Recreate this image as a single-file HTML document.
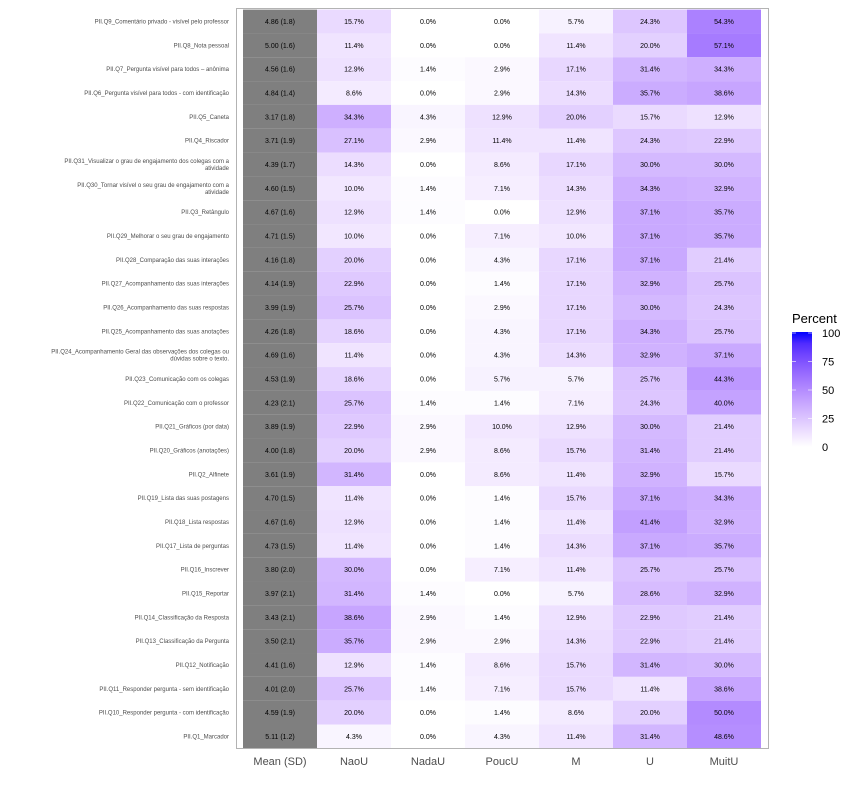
<!DOCTYPE html>
<html><head><meta charset="utf-8"><style>
body{margin:0;background:#fff;font-family:"Liberation Sans",sans-serif}
svg{display:block}
</style></head><body>
<svg id="c" width="858" height="794"></svg>
<script>
const rowLabels=["PII.Q9_Comentário privado - visível pelo professor","PII.Q8_Nota pessoal","PII.Q7_Pergunta visível para todos – anônima","PII.Q6_Pergunta visível para todos - com identificação","PII.Q5_Caneta","PII.Q4_Riscador","PII.Q31_Visualizar o grau de engajamento dos colegas com a|atividade","PII.Q30_Tornar visível o seu grau de engajamento com a|atividade","PII.Q3_Retângulo","PII.Q29_Melhorar o seu grau de engajamento","PII.Q28_Comparação das suas interações","PII.Q27_Acompanhamento das suas interações","PII.Q26_Acompanhamento das suas respostas","PII.Q25_Acompanhamento das suas anotações","PII.Q24_Acompanhamento Geral das observações dos colegas ou|dúvidas sobre o texto.","PII.Q23_Comunicação com os colegas","PII.Q22_Comunicação com o professor","PII.Q21_Gráficos (por data)","PII.Q20_Gráficos (anotações)","PII.Q2_Alfinete","PII.Q19_Lista das suas postagens","PII.Q18_Lista respostas","PII.Q17_Lista de perguntas","PII.Q16_Inscrever","PII.Q15_Reportar","PII.Q14_Classificação da Resposta","PII.Q13_Classificação da Pergunta","PII.Q12_Notificação","PII.Q11_Responder pergunta - sem identificação","PII.Q10_Responder pergunta - com identificação","PII.Q1_Marcador"];
const meanSD=["4.86 (1.8)","5.00 (1.6)","4.56 (1.6)","4.84 (1.4)","3.17 (1.8)","3.71 (1.9)","4.39 (1.7)","4.60 (1.5)","4.67 (1.6)","4.71 (1.5)","4.16 (1.8)","4.14 (1.9)","3.99 (1.9)","4.26 (1.8)","4.69 (1.6)","4.53 (1.9)","4.23 (2.1)","3.89 (1.9)","4.00 (1.8)","3.61 (1.9)","4.70 (1.5)","4.67 (1.6)","4.73 (1.5)","3.80 (2.0)","3.97 (2.1)","3.43 (2.1)","3.50 (2.1)","4.41 (1.6)","4.01 (2.0)","4.59 (1.9)","5.11 (1.2)"];
const categories=["NaoU","NadaU","PoucU","M","U","MuitU"];
const naoU=[15.7,11.4,12.9,8.6,34.3,27.1,14.3,10.0,12.9,10.0,20.0,22.9,25.7,18.6,11.4,18.6,25.7,22.9,20.0,31.4,11.4,12.9,11.4,30.0,31.4,38.6,35.7,12.9,25.7,20.0,4.3];
const nadaU=[0,0,1.4,0,4.3,2.9,0,1.4,1.4,0,0,0,0,0,0,0,1.4,2.9,2.9,0,0,0,0,0,1.4,2.9,2.9,1.4,1.4,0,0];
const poucU=[0,0,2.9,2.9,12.9,11.4,8.6,7.1,0,7.1,4.3,1.4,2.9,4.3,4.3,5.7,1.4,10.0,8.6,8.6,1.4,1.4,1.4,7.1,0,1.4,2.9,8.6,7.1,1.4,4.3];
const mU=[5.7,11.4,17.1,14.3,20.0,11.4,17.1,14.3,12.9,10.0,17.1,17.1,17.1,17.1,14.3,5.7,7.1,12.9,15.7,11.4,15.7,11.4,14.3,11.4,5.7,12.9,14.3,15.7,15.7,8.6,11.4];
const uU=[24.3,20.0,31.4,35.7,15.7,24.3,30.0,34.3,37.1,37.1,37.1,32.9,30.0,34.3,32.9,25.7,24.3,30.0,31.4,32.9,37.1,41.4,37.1,25.7,28.6,22.9,22.9,31.4,11.4,20.0,31.4];
const muitU=[54.3,57.1,34.3,38.6,12.9,22.9,30.0,32.9,35.7,35.7,21.4,25.7,24.3,25.7,37.1,44.3,40.0,21.4,21.4,15.7,34.3,32.9,35.7,25.7,32.9,21.4,21.4,30.0,38.6,50.0,48.6];
const legendTicks=[0,25,50,75,100];
const series=[naoU,nadaU,poucU,mU,uU,muitU];

const NS="http://www.w3.org/2000/svg";
const svg=document.getElementById('c');
function el(t,a,p){const e=document.createElementNS(NS,t);for(const k in a)e.setAttribute(k,a[k]);(p||svg).appendChild(e);return e;}
// Lab interpolation white->blue
function lab2rgb(L,a,b){let y=(L+16)/116,x=a/500+y,z=y-b/200;const f=t=>t**3>0.008856?t**3:(t-16/116)/7.787;x=0.95047*f(x);y=f(y);z=1.08883*f(z);let r=x*3.2406+y*-1.5372+z*-0.4986,g=x*-0.9689+y*1.8758+z*0.0415,bb=x*0.0557+y*-0.2040+z*1.0570;const c=v=>{v=v>0.0031308?1.055*Math.pow(v,1/2.4)-0.055:12.92*v;return Math.round(Math.max(0,Math.min(1,v))*255)};return `rgb(${c(r)},${c(g)},${c(bb)})`;}
function color(p){const t=p/100;return lab2rgb(100+(32.3-100)*t,79.2*t,-107.86*t);}
const x0=243,colW=74,y0=9.6,rowH=23.83;
const xc=i=>x0+colW*(i+0.5);
const yc=r=>y0+rowH*(r+0.5);
const panel=el('g',{});

rowLabels.forEach((lab,r)=>{
  const m=el('rect',{x:x0,y:y0+rowH*r,width:colW,height:rowH,fill:'#7f7f7f'},panel);
  
  const mt=el('text',{x:xc(0),y:yc(r)+2.5,'font-size':7,'text-anchor':'middle',fill:'#000'},panel);mt.textContent=meanSD[r];
  
  series.forEach((s,c)=>{
    const v=s[r];
    const rc=el('rect',{x:x0+colW*(c+1),y:y0+rowH*r,width:colW,height:rowH,fill:color(v)},panel);
    
    const t=el('text',{x:xc(c+1),y:yc(r)+2.5,'font-size':7,'text-anchor':'middle',fill:'#000'},panel);t.textContent=v.toFixed(1)+'%';
    
  });
  const parts=lab.split('|');
  const t=el('text',{x:229,'font-size':6,'text-anchor':'end',fill:'#4d4d4d'});
  
  parts.forEach((p,i)=>{const ts=el('tspan',{x:229,y:yc(r)+2-(parts.length-1)*3.5+i*7},t);ts.textContent=p;});
});
const b=el('rect',{x:236.5,y:8.5,width:532,height:740,fill:'none',stroke:'#b3b3b3','stroke-width':1});

["Mean (SD)"].concat(categories).forEach((c,i)=>{
  const t=el('text',{x:xc(i),y:765,'font-size':11,'text-anchor':'middle',fill:'#4d4d4d'});t.textContent=c;
  
});
// legend
const lt=el('text',{x:792,y:323,'font-size':13,fill:'#000'});lt.textContent='Percent';

const defs=el('defs',{});const lg=el('linearGradient',{id:'g',x1:0,y1:1,x2:0,y2:0},defs);
for(let i=0;i<=10;i++)el('stop',{offset:i/10,'stop-color':color(i*10)},lg);
const bar=el('rect',{x:792,y:332,width:20,height:115,fill:'url(#g)'});

const ly=v=>447-v/100*114;
legendTicks.forEach(v=>{
  el('line',{x1:792,x2:796,y1:ly(v),y2:ly(v),stroke:'#fff','stroke-width':0.6});
  el('line',{x1:808,x2:812,y1:ly(v),y2:ly(v),stroke:'#fff','stroke-width':0.6});
  const t=el('text',{x:822,y:ly(v)+4,'font-size':11,fill:'#000'});t.textContent=v;
  
});
</script>
</body></html>
